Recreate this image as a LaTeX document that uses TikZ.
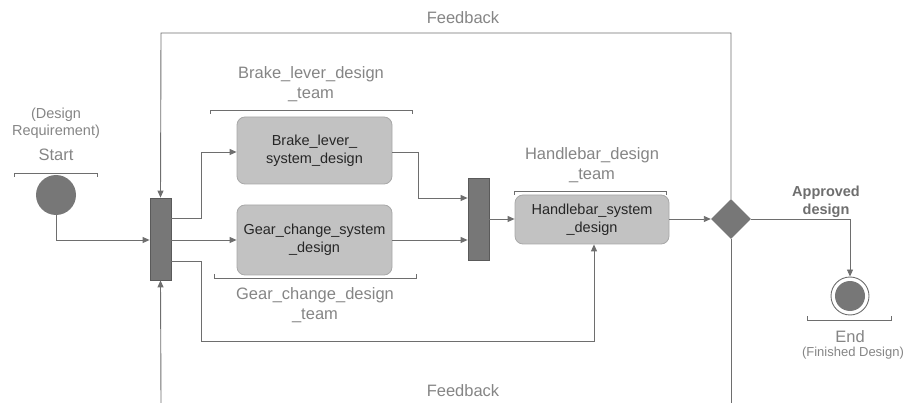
\documentclass[tikz,border=0pt]{standalone}
\usepackage{fontspec}
\setmainfont{Liberation Sans}
\usetikzlibrary{arrows.meta,shapes.geometric}
\definecolor{ln}{HTML}{6E6E6E}
\definecolor{lbl}{HTML}{858585}
\definecolor{boxf}{HTML}{C2C2C2}
\definecolor{boxd}{HTML}{A8A8A8}
\definecolor{dark}{HTML}{777777}
\definecolor{darkd}{HTML}{5A5A5A}
\tikzset{
  conn/.style={draw=ln, line width=0.9pt, -{Triangle[length=7pt,width=6pt]}},
  plain/.style={draw=ln, line width=0.9pt},
  actbox/.style={draw=boxd, fill=boxf, rounded corners=8pt, line width=0.8pt, align=center, inner sep=0pt, font=\fontsize{14.5}{18}\selectfont, text=black!85},
  bar/.style={draw=darkd, fill=dark, line width=0.8pt, inner sep=0pt, minimum width=21pt},
  lab/.style={text=lbl, align=center, font=\fontsize{16.5}{20}\selectfont, inner sep=0pt},
  brk/.style={draw=ln, line width=0.8pt},
}
\begin{document}
\begin{tikzpicture}[x=1pt,y=-1pt]
\useasboundingbox (0,0) rectangle (907,403);
% nodes
\node[circle, fill=dark, minimum size=40pt, inner sep=0pt] (start) at (56,195) {};
\node[bar, minimum height=82pt] (fork1) at (160.5,239) {};
\node[bar, minimum height=82pt] (fork2) at (478.5,219) {};
\node[actbox, minimum width=155pt, minimum height=67pt] (brake) at (314.5,150.5) {Brake\_lever\_\\system\_design};
\node[actbox, minimum width=155pt, minimum height=70pt] (gear) at (314.5,240) {Gear\_change\_system\\\_design};
\node[actbox, minimum width=154pt, minimum height=49pt] (handle) at (592,219.5) {Handlebar\_system\\\_design};
\node[diamond, fill=dark, minimum width=40pt, minimum height=40pt, inner sep=0pt] (dec) at (731,219) {};
\node[circle, draw=ln, line width=0.9pt, fill=white, minimum size=38pt, inner sep=0pt] (endo) at (850,296) {};
\node[circle, fill=dark, minimum size=30pt, inner sep=0pt] (endi) at (850,296) {};
\coordinate (bl) at (161,403);
\coordinate (br) at (731,403);

% labels
\node[lab] (fbt) at (463,18) {Feedback};
\node[lab] (fbb) at (463,391) {Feedback};
\node[lab, font=\fontsize{14.5}{17}\selectfont] (req) at (56,123) {(Design\\Requirement)};
\node[lab] (st) at (56,155) {Start};
\node[lab] (bt) at (311,84) {Brake\_lever\_design\\\_team};
\node[lab] (gt) at (315,305) {Gear\_change\_design\\\_team};
\node[lab] (ht) at (592,165) {Handlebar\_design\\\_team};
\node[lab, text=ln, font=\bfseries\fontsize{14.5}{18}\selectfont] (app) at (826,202) {Approved\\design};
\node[lab] (en) at (850,337) {End};
\node[lab, font=\fontsize{13}{16}\selectfont] (fd) at (853,353) {(Finished Design)};

% brackets
\draw[brk] (14,177) -- (14,173) -- (97,173) -- (97,177);
\draw[brk] (210,114) -- (210,110) -- (412,110) -- (412,114);
\draw[brk] (214,274) -- (214,278) -- (416,278) -- (416,274);
\draw[brk] (514,195) -- (514,191) -- (666,191) -- (666,195);
\draw[brk] (807,316) -- (807,320) -- (891,320) -- (891,316);

% connectors
\draw[conn] (start.south) |- (fork1.west |- 0,240);
\draw[conn] (fork1.east |- 0,218) -| (201,152) -- (brake.west |- 0,152);
\draw[conn] (fork1.east |- 0,240) -- (gear.west |- 0,240);
\draw[conn] (fork1.east |- 0,261) -| (201,341) -| (handle.south -| 594,0);
\draw[conn] (brake.east |- 0,152) -| (418,198) -- (fork2.west |- 0,198);
\draw[conn] (gear.east |- 0,240) -- (fork2.west |- 0,240);
\draw[conn] (fork2.east |- 0,219) -- (handle.west |- 0,219);
\draw[conn] (handle.east |- 0,219) -- (dec.west);
\draw[conn] (dec.east) -| (endo.north);
\draw[conn] (dec.north) |- (161,33) -- (fork1.north);
\draw[conn] (bl) -- (fork1.south);
\draw[plain] (dec.south) -- (br);
\end{tikzpicture}
\end{document}
